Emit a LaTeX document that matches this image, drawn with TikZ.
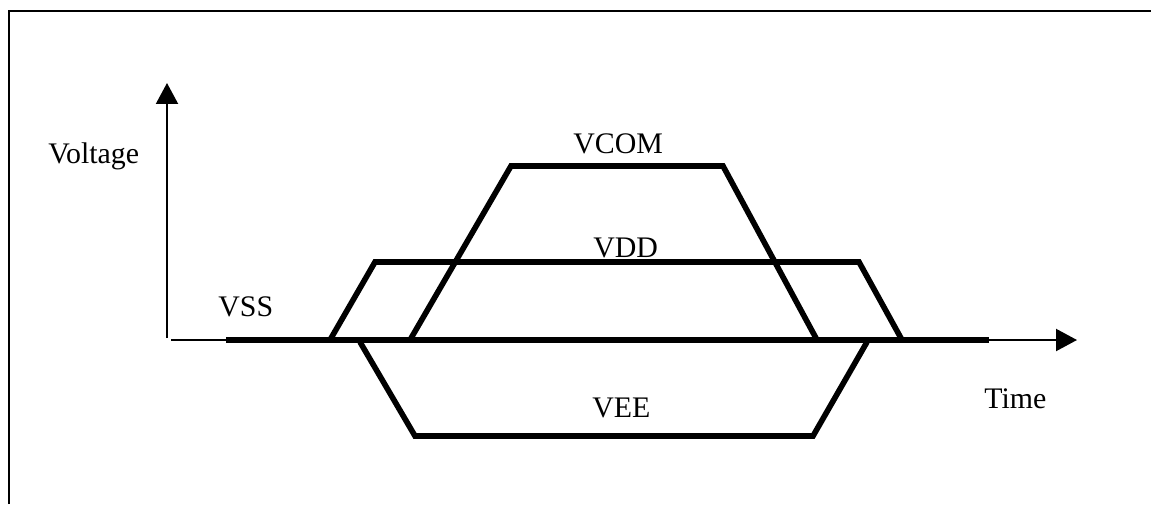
\documentclass[tikz,border=0pt]{standalone}
\usepackage{fontspec}
\setmainfont{Liberation Serif}
\usepackage{tikz}
\usetikzlibrary{arrows.meta}

\begin{document}
\begin{tikzpicture}[x=0.02cm,y=-0.02cm]

      \useasboundingbox (0,0) rectangle (1151,504);
      \draw[line width=1.1pt] (9,504) -- (9,11) -- (1151,11);

      % axes
      \coordinate (o) at (167,340);
      \coordinate (ytop) at (167,83);
      \coordinate (xend) at (1077,340);
      \begin{scope}[>={Triangle[length=0.42cm,width=0.44cm]},
          line width=1.2pt]
        \draw[->] (167,338) -- (ytop);
        \draw[->] (171,340) -- (xend);
      \end{scope}

      % traces
      \begin{scope}[line width=3.2pt, line join=miter]
        \draw (226,340) -- (989,340);
        \draw (330,340) -- (375,262) -- (859,262) -- (902,340);
        \draw (410,340) -- (511,166) -- (723,166) -- (817,340);
        \draw (360,342) -- (415,436) -- (813,436) -- (867,342);
      \end{scope}

      \begin{scope}[every node/.style={anchor=base west,inner sep=0pt,
          font=\fontsize{17}{20}\selectfont}]
        \node (volt) at (48,163) {Voltage};
        \node (vss) at (218,316) {VSS};
        \node (vcom) at (573,153) {VCOM};
        \node (vdd) at (593,257) {VDD};
        \node (vee) at (592,417) {VEE};
        \node (time) at (984,408) {Time};
      \end{scope}

\end{tikzpicture}
\end{document}
